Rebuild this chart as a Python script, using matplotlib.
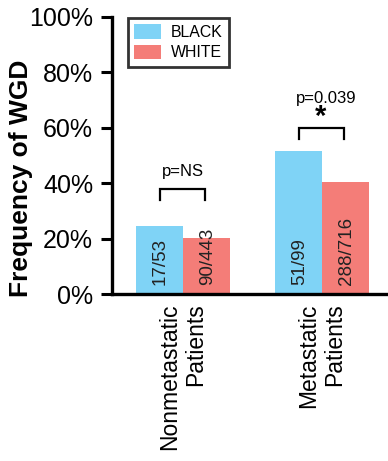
import matplotlib.pyplot as plt
import numpy as np

plt.rcParams['font.family'] = ['Liberation Sans', 'DejaVu Sans']

# WGD frequency (%) by cohort and race
groups = ['Nonmetastatic\nPatients', 'Metastatic\nPatients']
black_freq = [24.4, 51.5]
white_freq = [20.3, 40.2]
black_counts = ['17/53', '51/99']
white_counts = ['90/443', '288/716']
pvals = ['p=NS', 'p=0.039']
stars = ['', '*']
# bracket heights (%), sit above each pair of bars
bracket_low = [33.9, 55.9]
bracket_high = [37.8, 59.7]

blue = '#7fd3f6'
red = '#f47d78'

fig = plt.figure(figsize=(3.88, 4.61), dpi=100)
ax = fig.add_axes([112 / 388, 167 / 461, 276 / 388, 277.5 / 461])

x = np.arange(len(groups))
w = 0.338
b1 = ax.bar(x - w / 2, black_freq, w, color=blue, label='BLACK')
b2 = ax.bar(x + w / 2, white_freq, w, color=red, label='WHITE')

# counts written inside the bars, bottom up
for bars, labels in [(b1, black_counts), (b2, white_counts)]:
    for rect, lab in zip(bars, labels):
        ax.text(rect.get_x() + rect.get_width() / 2 + 0.01, 3.2, lab, rotation=90,
                ha='center', va='bottom', fontsize=13.5, color='#222222')

# significance brackets
for i in range(len(groups)):
    y0, y1 = bracket_low[i], bracket_high[i]
    xl, xr = x[i] - 0.16, x[i] + 0.16
    ax.plot([xl, xl, xr, xr], [y0, y1, y1, y0], color='black', lw=1.6,
            solid_joinstyle='miter', clip_on=False)
    if stars[i]:
        ax.text(x[i] - 0.01, y1 - 1.0, stars[i], ha='center', va='bottom',
                fontsize=21, fontweight='bold')
        ax.text(x[i] + 0.03, y1 + 10.9, pvals[i], ha='center', va='center',
                fontsize=12)
    else:
        ax.text(x[i], y1 + 6.5, pvals[i], ha='center', va='center', fontsize=12)

ax.set_xlim(-0.5086, 1.477)
ax.set_ylim(0, 100)
ax.set_yticks(range(0, 101, 20))
ax.set_yticklabels([f'{v}%' for v in range(0, 101, 20)], fontsize=18)
ax.set_xticks(x)
ax.set_xticklabels(groups, rotation=90, fontsize=16.5, ha='center', va='top',
                   multialignment='right')
ax.tick_params(axis='x', length=0, pad=7)
ax.tick_params(axis='y', length=8, width=2.2, pad=5.5)

ax.set_ylabel('Frequency of WGD', fontsize=19, fontweight='bold')
ax.yaxis.set_label_coords(-0.286, 0.418)

for side in ['top', 'right']:
    ax.spines[side].set_visible(False)
for side in ['left', 'bottom']:
    ax.spines[side].set_linewidth(2.4)

leg = ax.legend(loc='upper left', bbox_to_anchor=(16 / 276, 0.995),
                fontsize=11.4, frameon=True, fancybox=False, handlelength=1.7,
                handleheight=1.05, handletextpad=0.6, borderpad=0.4,
                labelspacing=0.3, borderaxespad=0)
leg.get_frame().set_edgecolor('black')
leg.get_frame().set_linewidth(2)

fig.savefig('out.png', dpi=100)
